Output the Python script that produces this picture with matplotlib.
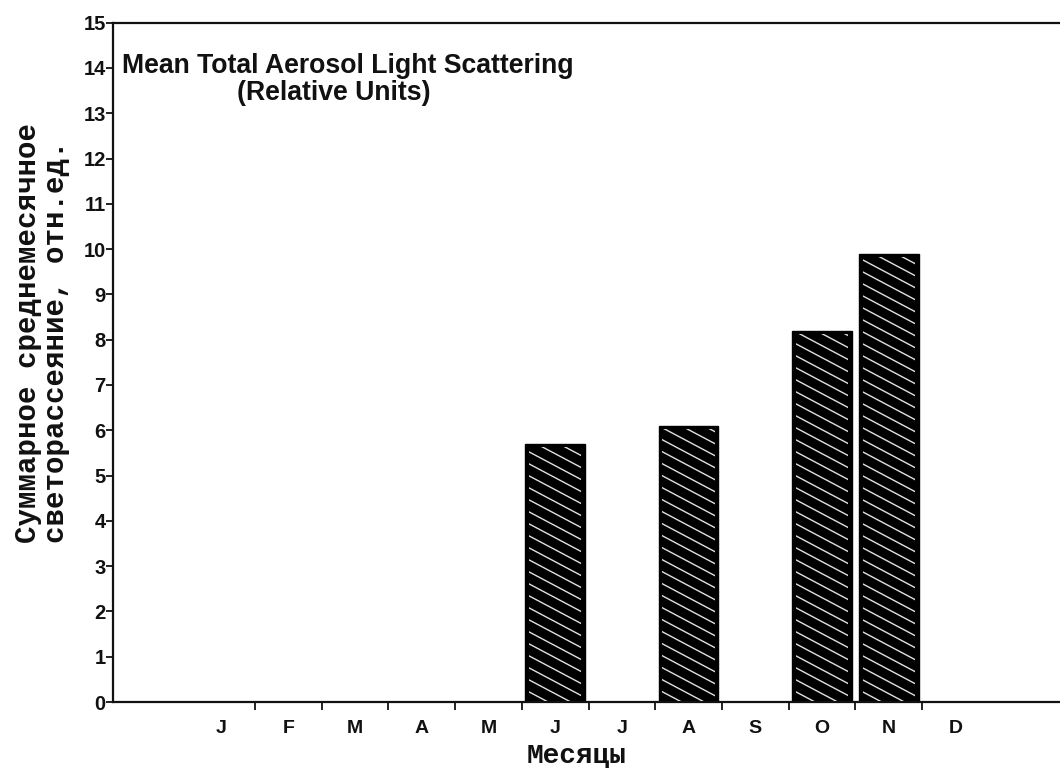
import numpy as np
import matplotlib
matplotlib.use("Agg")
import matplotlib.pyplot as plt
from matplotlib.lines import Line2D
from matplotlib.patches import Polygon
from matplotlib.transforms import IdentityTransform

# Monthly mean total aerosol light scattering (relative units); NaN = no data
month_labels = ["J", "F", "M", "A", "M", "J", "J", "A", "S", "O", "N", "D"]
month_pos = np.arange(1, 13)
scattering = [np.nan, np.nan, np.nan, np.nan, np.nan, 5.7,
              np.nan, 6.1, np.nan, 8.2, 9.9, np.nan]
y_ticks = list(range(0, 16))

title_line1 = "Mean Total Aerosol Light Scattering"
title_line2 = "(Relative Units)"
y_label = "Суммарное среднемесячное\nсветорассеяние, отн.ед."
x_label = "Месяцы"

W, H = 1060, 768
fig = plt.figure(figsize=(W / 100, H / 100), dpi=100)
fig.patch.set_facecolor("white")

ax = fig.add_axes([113.3 / W, 66 / H, 1 - 113.3 / W, (745.3 - 66) / H])
ax.set_xlim(-0.622, 13.565)
ax.set_ylim(0, 15)

# bars
vals = np.array(scattering, dtype=float)
mask = ~np.isnan(vals)
bars = ax.bar(month_pos[mask], vals[mask], width=0.89, color="black",
              edgecolor="black", linewidth=1.0, zorder=2)

# white diagonal hatching, drawn in pixel space and clipped to each bar
slope = 0.53      # pixel drop per pixel to the right
step = 12.0       # vertical spacing of hatch lines, px
inset = 3.5
for r in bars:
    x0, y0 = ax.transData.transform((r.get_x(), 0))
    x1, y1 = ax.transData.transform((r.get_x() + r.get_width(), r.get_height()))
    cx0, cx1 = x0 + inset, x1 - inset
    cy0, cy1 = y0 + 1, y1 - inset
    clip = Polygon([(cx0, cy0), (cx1, cy0), (cx1, cy1), (cx0, cy1)],
                   closed=True, transform=IdentityTransform())
    w = x1 - x0
    c = y0 - 2 * step
    while c < y1 + slope * w + step:
        ln = Line2D([x0, x1], [c, c - slope * w], color="#e0e0e0", lw=1.0,
                    transform=IdentityTransform(), zorder=3)
        ax.add_line(ln)
        ln.set_clip_path(clip)
        c += step

# spines
for side in ("left", "top", "bottom"):
    ax.spines[side].set_linewidth(1.6)
    ax.spines[side].set_color("#111111")
ax.spines["right"].set_visible(False)

# y axis
ax.set_yticks(y_ticks)
ax.tick_params(axis="y", direction="out", length=5, width=1.3, pad=0.5,
               labelsize=14.5, colors="#111111")
for t in ax.get_yticklabels():
    t.set_fontfamily("Liberation Sans")
    t.set_fontweight("bold")

# x axis: labels at month centres, tick marks between months
ax.set_xticks(month_pos)
ax.set_xticklabels(month_labels, fontfamily="Liberation Sans",
                   fontweight="bold", fontsize=14)
ax.set_xticks(month_pos[:-1] + 0.5, minor=True)
ax.tick_params(axis="x", which="major", length=0, pad=13, colors="#111111")
ax.tick_params(axis="x", which="minor", direction="out", length=6, width=1.3,
               colors="#111111")

# title block inside the axes
ax.text(122 / W, 1 - 73 / H, title_line1, transform=fig.transFigure,
        ha="left", va="baseline", fontsize=19.2, fontweight="bold",
        fontfamily="Liberation Sans", color="#111111")
ax.text(334 / W, 1 - 100 / H, title_line2, transform=fig.transFigure,
        ha="center", va="baseline", fontsize=19.2, fontweight="bold",
        fontfamily="Liberation Sans", color="#111111")

# axis titles
fig.text(42 / W, 1 - 543 / H, y_label, rotation=90, ha="center", va="bottom",
         multialignment="left", linespacing=1.0, fontsize=21,
         fontfamily="Liberation Mono", fontweight="bold", color="#111111")
fig.text(576 / W, 1 - 763 / H, x_label, ha="center", va="baseline",
         fontsize=20, fontfamily="Liberation Mono", fontweight="bold",
         color="#111111")

fig.savefig("out.png", dpi=100)
